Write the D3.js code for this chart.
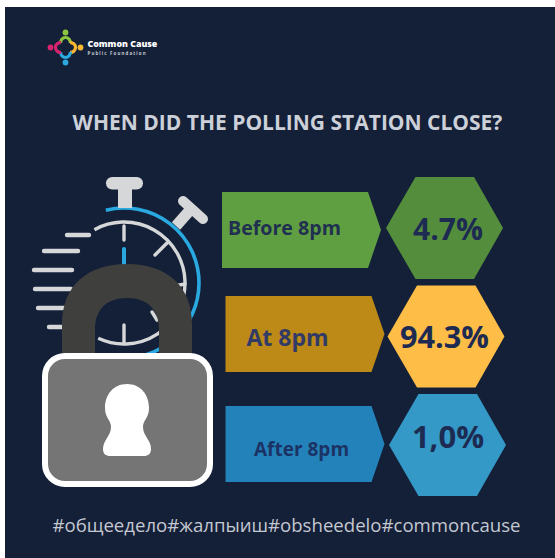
<!DOCTYPE html>
<html>
<head>
<meta charset="utf-8">
<script src="https://cdnjs.cloudflare.com/ajax/libs/d3/7.8.5/d3.min.js"></script>
<style>
html,body{margin:0;padding:0;background:#fff}
svg{display:block}
text{font-family:"Open Sans",sans-serif}
</style>
</head>
<body>
<svg id="chart" width="555" height="558"></svg>
<script>
// Poll results
const categories = ["Before 8pm", "At 8pm", "After 8pm"];
const shareLabels = ["4.7%", "94.3%", "1,0%"];
const shares = [4.7, 94.3, 1.0];

// Row styling and placement
const arrowFill = ["#5f9f42", "#bd8a18", "#2382b9"];
const hexFill = ["#548e3d", "#fdbd47", "#3499c6"];
const arrowBoxes = [[222, 192], [225.5, 296], [225.5, 406]];
const hexBoxes = [[386, 177], [387.5, 285.5], [389, 394]];
const categoryAnchor = [[228, 235], [246.5, 346], [254, 456]];
const shareAnchor = [[448, 240], [444.5, 348], [448, 448]];
const categorySize = [19.6, 23, 19];
const shareSize = [30, 30.7, 31];
const categoryColor = ["#1f3050", "#323a66", "#1b3264"];
const shareColor = "#1d2b52";

const svg = d3.select("#chart");
const line = d3.line();
const navy = "#141f38";
const pale = "#d6d7d9";
const blue = "#29a9e0";

svg.append("rect").attr("x", 5).attr("y", 7).attr("width", 550).attr("height", 551).attr("fill", navy);

// Logo: four ring-people around a centre cross
const logo = svg.append("g").attr("transform", "translate(65.5,47.5)");
const logoParts = [
  {c: "#8cc63f", a: 0}, {c: "#f7b733", a: 90},
  {c: "#29a9e0", a: 180}, {c: "#d6246e", a: 270}
];
logoParts.forEach(p => {
  const g = logo.append("g").attr("transform", `rotate(${p.a})`);
  g.append("circle").attr("cy", -15).attr("r", 2.9).attr("fill", p.c);
  g.append("path")
    .attr("d", d3.arc()({innerRadius: 3.2, outerRadius: 6.4, startAngle: -1.75, endAngle: 1.75}))
    .attr("transform", "translate(0,-5.2)")
    .attr("fill", p.c);
});
logo.append("text").attr("x", 22).attr("y", -0.2).attr("fill", "#fff")
  .attr("font-size", 8.8).attr("font-weight", 800).text("Common Cause");
logo.append("text").attr("x", 22).attr("y", 7.2).attr("fill", "#c9ccd3")
  .attr("font-size", 4.4).attr("font-weight", 700).attr("letter-spacing", 1.15).text("Public Foundation");

svg.append("text").attr("x", 287.5).attr("y", 130).attr("text-anchor", "middle")
  .attr("fill", "#ccd0d8").attr("font-size", 21).attr("font-weight", 700)
  .text("WHEN DID THE POLLING STATION CLOSE?");

// Stopwatch
const watch = svg.append("g");
const watchCenter = [124, 283];
const ringArc = (r, a0, a1) => d3.arc()({innerRadius: r, outerRadius: r, startAngle: a0 * Math.PI / 180, endAngle: a1 * Math.PI / 180});

watch.append("path").attr("d", ringArc(75, -14, 194))
  .attr("transform", `translate(${watchCenter})`).attr("fill", "none")
  .attr("stroke", blue).attr("stroke-width", 3.6);
watch.append("path").attr("d", ringArc(61, -29, 205))
  .attr("transform", `translate(${watchCenter})`).attr("fill", "none")
  .attr("stroke", pale).attr("stroke-width", 3.4).attr("stroke-linecap", "round");

const watchStrokes = [
  {p: [[124, 226], [124, 240]], c: pale, w: 3.4},
  {p: [[124, 249], [124, 265]], c: blue, w: 4},
  {p: [[167, 243], [155, 255]], c: pale, w: 3.4},
  {p: [[185, 284], [174, 286]], c: pale, w: 3.4},
  {p: [[152, 312], [157, 320]], c: pale, w: 3.4},
  {p: [[124, 325], [124, 342]], c: pale, w: 3.4},
  // speed lines
  {p: [[67, 235], [89, 235]], c: pale, w: 4.4},
  {p: [[44, 251], [78, 251]], c: pale, w: 4.4},
  {p: [[34, 270], [72, 270]], c: pale, w: 4.4},
  {p: [[35, 289], [71, 289]], c: pale, w: 4.4},
  {p: [[38, 308], [70, 308]], c: pale, w: 4.4},
  {p: [[49, 327], [70, 327]], c: pale, w: 4.4}
];
watch.selectAll(null).data(watchStrokes).join("path")
  .attr("d", d => line(d.p)).attr("fill", "none")
  .attr("stroke", d => d.c).attr("stroke-width", d => d.w).attr("stroke-linecap", "round");

// Crown and side button
watch.append("rect").attr("x", 118).attr("y", 186).attr("width", 14).attr("height", 22).attr("fill", pale);
watch.append("rect").attr("x", 106).attr("y", 177).attr("width", 37).attr("height", 12.5).attr("rx", 6.2).attr("fill", pale);
watch.append("path").attr("d", line([[176, 226], [191, 209]])).attr("stroke", pale).attr("stroke-width", 11).attr("fill", "none");
watch.append("path").attr("d", line([[183, 201], [203, 219]])).attr("stroke", pale).attr("stroke-width", 10).attr("stroke-linecap", "round").attr("fill", "none");

// Padlock
const lock = svg.append("g");
const shackle = d3.path();
shackle.moveTo(62, 356);
shackle.lineTo(62, 325);
shackle.bezierCurveTo(62, 285, 88, 264, 127, 264);
shackle.bezierCurveTo(166, 264, 192, 285, 192, 325);
shackle.lineTo(192, 356);
shackle.lineTo(159, 356);
shackle.lineTo(159, 330);
shackle.bezierCurveTo(159, 310, 148, 298, 127, 298);
shackle.bezierCurveTo(106, 298, 95, 310, 95, 330);
shackle.lineTo(95, 356);
shackle.closePath();
lock.append("path").attr("d", shackle.toString()).attr("fill", "#3f3f3d");
lock.append("rect").attr("x", 45).attr("y", 356).attr("width", 165).attr("height", 128).attr("rx", 20)
  .attr("fill", "#757575").attr("stroke", "#fff").attr("stroke-width", 6);
const keyhole = d3.path();
keyhole.moveTo(127, 384);
keyhole.bezierCurveTo(141, 384, 149, 395, 149, 408);
keyhole.bezierCurveTo(149, 418, 143, 420, 143, 427);
keyhole.bezierCurveTo(143, 436, 151, 440, 151, 449);
keyhole.bezierCurveTo(151, 454, 148, 456, 144, 456);
keyhole.lineTo(110, 456);
keyhole.bezierCurveTo(106, 456, 103, 454, 103, 449);
keyhole.bezierCurveTo(103, 440, 111, 436, 111, 427);
keyhole.bezierCurveTo(111, 420, 105, 418, 105, 408);
keyhole.bezierCurveTo(105, 395, 113, 384, 127, 384);
keyhole.closePath();
lock.append("path").attr("d", keyhole.toString()).attr("fill", "#fff");

// One row per answer: label arrow, then a hexagon holding the share
const arrowW = d3.scaleLinear().domain([0, 1]).range([0, 146]);
const rows = svg.selectAll("g.row").data(categories.map((name, i) => ({name, i, share: shares[i], label: shareLabels[i]})))
  .join("g").attr("class", "row");

rows.append("path").attr("fill", d => arrowFill[d.i]).attr("d", d => {
  const [x, y] = arrowBoxes[d.i];
  const w = arrowW(1);
  return line([[x, y], [x + w, y], [x + w + 13, y + 38], [x + w, y + 76], [x, y + 76]]) + "Z";
});
rows.append("path").attr("fill", d => hexFill[d.i]).attr("d", d => {
  const [x, y] = hexBoxes[d.i];
  return line([[x, y + 51], [x + 29.5, y], [x + 88, y], [x + 117, y + 51], [x + 88, y + 102], [x + 29.5, y + 102]]) + "Z";
});
rows.append("text").text(d => d.name)
  .attr("x", d => categoryAnchor[d.i][0]).attr("y", d => categoryAnchor[d.i][1])
  .attr("font-size", d => categorySize[d.i]).attr("font-weight", 700).attr("fill", d => categoryColor[d.i]);
rows.append("text").text(d => d.label)
  .attr("x", d => shareAnchor[d.i][0]).attr("y", d => shareAnchor[d.i][1])
  .attr("text-anchor", "middle").attr("font-size", d => shareSize[d.i]).attr("font-weight", 700).attr("fill", shareColor);

svg.append("text").attr("x", 286.5).attr("y", 532).attr("text-anchor", "middle")
  .attr("fill", "#c4c8d0").attr("font-size", 18.6)
  .text("#общеедело#жалпыиш#obsheedelo#commoncause");
</script>
</body>
</html>
